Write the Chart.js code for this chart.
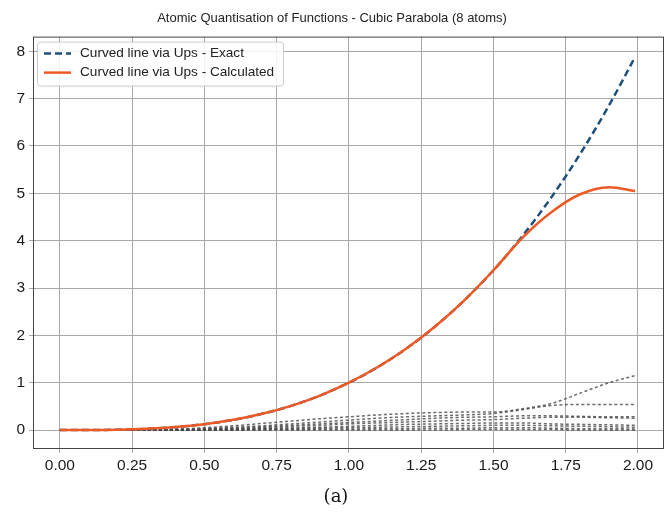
<!DOCTYPE html>
<html>
<head>
<meta charset="utf-8">
<script src="https://cdn.jsdelivr.net/npm/chart.js@4.4.0/dist/chart.umd.min.js"></script>
<style>
  html, body { margin: 0; padding: 0; background: #fff; }
  #wrap { width: 672px; height: 513px; }
</style>
</head>
<body>
<div id="wrap"><canvas id="chart" width="672" height="513"></canvas></div>
<script>
const xs = [0, 0.1, 0.2, 0.3, 0.4, 0.5, 0.6, 0.7, 0.8, 0.9, 1.0, 1.1, 1.2, 1.3, 1.4, 1.5, 1.6, 1.7, 1.8, 1.9, 1.99]

const exact = [0, 0.001, 0.008, 0.027, 0.064, 0.125, 0.216, 0.343, 0.512, 0.729, 1.0, 1.331, 1.728, 2.197, 2.744, 3.375, 4.096, 4.913, 5.832, 6.859, 7.88]
const calculated = [0, 0.001, 0.008, 0.027, 0.064, 0.125, 0.216, 0.343, 0.512, 0.729, 1.0, 1.331, 1.728, 2.197, 2.744, 3.375, 4.06, 4.6, 4.98, 5.13, 5.05]

// 8 atoms (gray dashed)
const atom1 = [0, 0, 0, 0.005, 0.02, 0.05, 0.09, 0.14, 0.19, 0.24, 0.28, 0.32, 0.35, 0.37, 0.38, 0.38, 0.45, 0.56, 0.78, 1.0, 1.15]
const atom2 = [0, 0, 0, 0, 0.01, 0.03, 0.06, 0.09, 0.13, 0.17, 0.21, 0.25, 0.28, 0.3, 0.32, 0.35, 0.43, 0.52, 0.54, 0.54, 0.54]
const atom3 = [0, 0, 0, 0, 0.01, 0.02, 0.04, 0.07, 0.1, 0.13, 0.16, 0.19, 0.22, 0.25, 0.27, 0.28, 0.3, 0.3, 0.29, 0.28, 0.28]
const atom4 = [0, 0, 0, 0, 0, 0.01, 0.03, 0.05, 0.08, 0.1, 0.13, 0.15, 0.17, 0.19, 0.21, 0.22, 0.25, 0.27, 0.27, 0.26, 0.25]
const atom5 = [0, 0, 0, 0, 0, 0.01, 0.02, 0.03, 0.05, 0.06, 0.08, 0.1, 0.12, 0.13, 0.14, 0.15, 0.15, 0.13, 0.12, 0.11, 0.1]
const atom6 = [0, 0, 0, 0, 0, 0, 0.01, 0.02, 0.03, 0.04, 0.05, 0.06, 0.07, 0.08, 0.09, 0.1, 0.1, 0.09, 0.08, 0.07, 0.06]
const atom7 = [0, 0, 0, 0, 0, 0, 0, 0.01, 0.01, 0.02, 0.02, 0.03, 0.03, 0.04, 0.04, 0.05, 0.05, 0.04, 0.03, 0.03, 0.02]
const atom8 = [0, 0, 0, 0, 0, 0, 0, 0, 0, 0, 0, 0, 0, 0, 0.01, 0.01, 0.01, 0.01, 0, 0, 0]
const atoms = [atom1, atom2, atom3, atom4, atom5, atom6, atom7, atom8]

const xTicks = [0, 0.25, 0.5, 0.75, 1.0, 1.25, 1.5, 1.75, 2.0]
const yTicks = [0, 1, 2, 3, 4, 5, 6, 7, 8]

const titleText = 'Atomic Quantisation of Functions - Cubic Parabola (8 atoms)'
const captionText = '(a)'

function pts(ys) {
  return ys.map((y, i) => ({x: xs[i], y: y}))
}

let datasets = []
datasets.push({
  label: 'Curved line via Ups - Calculated',
  data: pts(calculated),
  borderColor: '#ef5a24',
  borderWidth: 2.5,
  cubicInterpolationMode: 'monotone',
  pointRadius: 0,
  fill: false,
})
datasets.push({
  label: 'Curved line via Ups - Exact',
  data: pts(exact),
  borderColor: '#1d4f7c',
  borderWidth: 2.5,
  borderDash: [7, 4],
  cubicInterpolationMode: 'monotone',
  pointRadius: 0,
  fill: false,
})
for (let i = 0; i < atoms.length; i++) {
  datasets.push({
    label: 'atom ' + (i + 1),
    data: pts(atoms[i]),
    borderColor: 'rgba(70,70,70,0.8)',
    borderWidth: 1.5,
    borderDash: [3, 2.5],
    cubicInterpolationMode: 'monotone',
    pointRadius: 0,
    fill: false,
  })
}

// frame, legend box inside the plot and the caption below
const decor = {
  id: 'decor',
  afterDraw(chart) {
    const ctx = chart.ctx
    const a = chart.chartArea
    ctx.save()
    ctx.strokeStyle = '#444'
    ctx.lineWidth = 1
    ctx.strokeRect(a.left + 0.5, a.top + 0.5, a.right - a.left - 1, a.bottom - a.top - 1)

    // legend
    const bx = a.left + 4, by = a.top + 5, bw = 246, bh = 44
    ctx.fillStyle = 'rgba(255,255,255,0.85)'
    ctx.strokeStyle = '#cccccc'
    ctx.beginPath()
    ctx.roundRect(bx + 0.5, by + 0.5, bw, bh, 3)
    ctx.fill()
    ctx.stroke()

    const rows = [datasets[1], datasets[0]]
    ctx.font = '13.6px "Liberation Sans", Arial, sans-serif'
    ctx.textBaseline = 'middle'
    for (let i = 0; i < rows.length; i++) {
      const ry = by + 12 + i * 19
      ctx.strokeStyle = rows[i].borderColor
      ctx.lineWidth = 2.5
      ctx.setLineDash(rows[i].borderDash || [])
      ctx.beginPath()
      ctx.moveTo(bx + 7, ry)
      ctx.lineTo(bx + 34, ry)
      ctx.stroke()
      ctx.setLineDash([])
      ctx.fillStyle = '#222'
      ctx.fillText(rows[i].label, bx + 43, ry)
    }

    // caption
    ctx.fillStyle = '#111'
    ctx.font = '18px "DejaVu Serif", serif'
    ctx.textAlign = 'center'
    ctx.fillText(captionText, 336, 497)
    ctx.restore()
  }
}

const tickFont = {family: '"Liberation Sans", Arial, sans-serif', size: 15.5}

new Chart(document.getElementById('chart'), {
  type: 'line',
  data: {datasets: datasets},
  options: {
    responsive: false,
    animation: false,
    layout: {padding: {top: 0, right: 8, bottom: 0, left: 0}},
    plugins: {
      legend: {display: false},
      tooltip: {enabled: false},
      title: {
        display: true,
        text: titleText,
        color: '#222',
        font: {family: '"Liberation Sans", Arial, sans-serif', size: 13, weight: 'normal'},
        padding: {top: 11, bottom: 10},
      },
    },
    scales: {
      x: {
        type: 'linear',
        min: -0.093,
        max: 2.09,
        afterBuildTicks: (s) => { s.ticks = xTicks.map(v => ({value: v})) },
        afterFit: (s) => { s.height = 64 },
        ticks: {
          color: '#1a1a1a',
          font: tickFont,
          padding: 3,
          maxRotation: 0,
          callback: (v) => Number(v).toFixed(2),
        },
        grid: {color: '#a8a8a8', lineWidth: 1, tickLength: 4},
        border: {display: false},
      },
      y: {
        type: 'linear',
        min: -0.4,
        max: 8.31,
        afterBuildTicks: (s) => { s.ticks = yTicks.map(v => ({value: v})) },
        afterFit: (s) => { s.width = 33 },
        ticks: {
          color: '#1a1a1a',
          font: tickFont,
          padding: 4,
          callback: (v) => String(v),
        },
        grid: {color: '#a8a8a8', lineWidth: 1, tickLength: 4},
        border: {display: false},
      },
    },
  },
  plugins: [decor],
})
</script>
</body>
</html>
